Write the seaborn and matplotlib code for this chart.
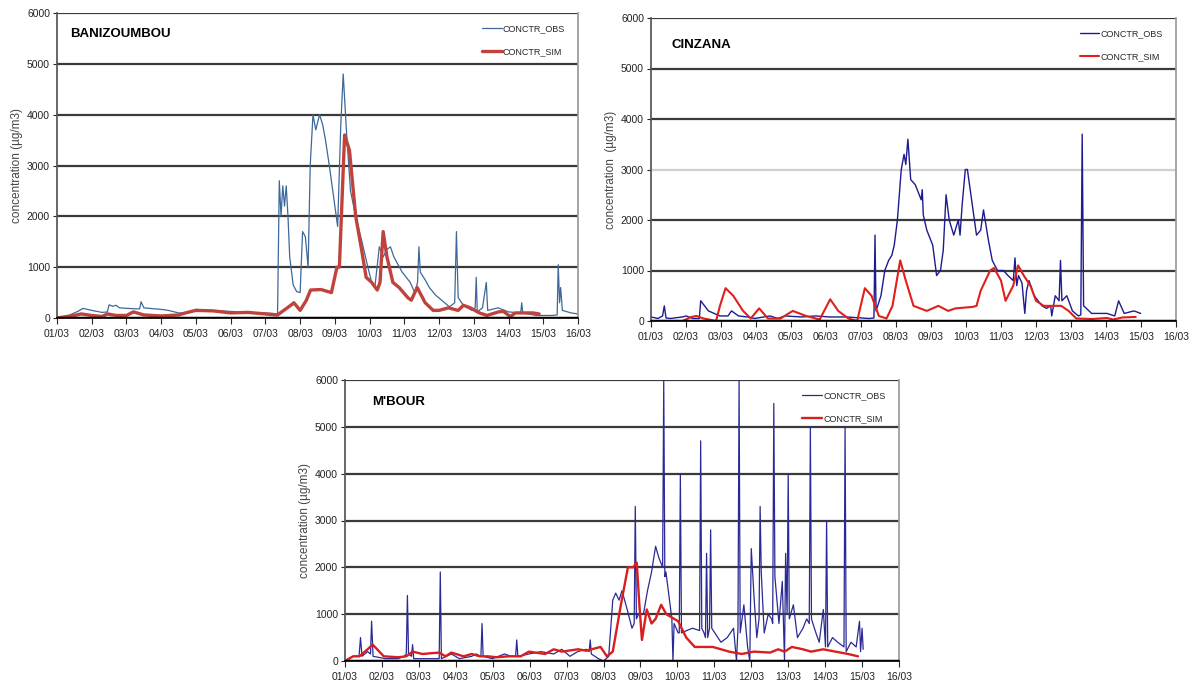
import numpy as np
import pandas as pd
import matplotlib
matplotlib.use("Agg")
import matplotlib.pyplot as plt
import seaborn as sns

# days since 01/03
day_labels = [f"{d:02d}/03" for d in range(1, 17)]
y_ticks = [0, 1000, 2000, 3000, 4000, 5000, 6000]

# BANIZOUMBOU
ban_obs_t = [0, 0.3, 0.6, 0.75, 1.0, 1.3, 1.45, 1.5, 1.6, 1.7, 1.8, 2.0, 2.3, 2.38, 2.42, 2.5, 2.8, 3.0,
             3.2, 3.5, 3.8, 4.0, 4.3, 4.6, 5.0, 5.3, 5.6, 5.9, 6.2, 6.35, 6.4, 6.45, 6.5, 6.55, 6.6, 6.65,
             6.7, 6.8, 6.9, 7.0, 7.07, 7.15, 7.23, 7.29, 7.37, 7.45, 7.56, 7.65, 7.73, 7.84, 8.0, 8.08,
             8.17, 8.24, 8.34, 8.45, 8.6, 8.78, 8.95, 9.06, 9.15, 9.28, 9.39, 9.5, 9.6, 9.7, 9.94,
             10.17, 10.3, 10.38, 10.42, 10.46, 10.6, 10.72, 10.9, 11.16, 11.3, 11.45, 11.5, 11.55, 11.7,
             11.94, 12.04, 12.07, 12.1, 12.25, 12.36, 12.4, 12.7, 13.0, 13.35, 13.38, 13.41, 13.8,
             14.26, 14.4, 14.43, 14.47, 14.5, 14.55, 14.8, 15.0]
ban_obs_c = [10, 40, 130, 190, 150, 110, 120, 260, 230, 250, 200, 190, 180, 180, 320, 200, 180, 170,
             150, 100, 100, 170, 150, 140, 130, 120, 110, 100, 90, 80, 2700, 2000, 2600, 2200, 2600, 2000,
             1200, 650, 520, 500, 1700, 1600, 1000, 3000, 4000, 3700, 4000, 3800, 3500, 3000, 2200, 1800,
             3800, 4800, 3600, 2500, 2000, 1500, 1000, 700, 600, 1400, 1200, 1350, 1400, 1200, 900,
             700, 500, 700, 1400, 900, 750, 600, 450, 300, 220, 300, 1700, 400, 250,
             150, 200, 800, 120, 200, 700, 150, 200, 120, 100, 300, 100, 50,
             50, 60, 1050, 300, 600, 150, 100, 80]
ban_sim_t = [0, 0.5, 0.7, 1.0, 1.3, 1.45, 1.7, 2.0, 2.2, 2.5, 3.0, 3.5, 3.7, 4.0, 4.5, 5.0, 5.5, 6.0,
             6.35, 6.73, 6.82, 7.0, 7.18, 7.3, 7.6, 7.9, 8.06, 8.13, 8.28, 8.42, 8.6, 8.78, 8.9, 9.06,
             9.22, 9.3, 9.39, 9.5, 9.67, 9.85, 10.1, 10.2, 10.37, 10.6, 10.83, 11.0, 11.27, 11.55,
             11.7, 11.9, 12.16, 12.38, 12.71, 12.85, 13.05, 13.2, 13.7, 13.88]
ban_sim_c = [0, 50, 80, 50, 30, 80, 50, 50, 120, 60, 40, 60, 100, 150, 140, 100, 110, 80,
             60, 250, 300, 150, 350, 550, 560, 500, 1000, 1000, 3600, 3300, 2000, 1300, 800, 700,
             550, 700, 1700, 1200, 700, 600, 400, 350, 600, 300, 150, 150, 200, 150,
             250, 200, 100, 50, 120, 130, 30, 100, 100, 80]

# CINZANA
cin_obs_t = [0, 0.2, 0.33, 0.38, 0.43, 0.55, 0.9, 1.0, 1.2, 1.38, 1.42, 1.64, 1.97, 2.2, 2.3, 2.5,
             2.75, 2.96, 3.4, 3.62, 3.83, 4.3, 4.7, 5.1, 5.58, 6.0, 6.24, 6.37, 6.4, 6.43, 6.57, 6.68,
             6.79, 6.88, 6.95, 7.04, 7.15, 7.23, 7.28, 7.34, 7.42, 7.55, 7.72, 7.75, 7.78, 7.88, 8.05,
             8.16, 8.27, 8.35, 8.43, 8.52, 8.65, 8.78, 8.83, 8.89, 8.98, 9.04, 9.14, 9.3, 9.42, 9.5,
             9.64, 9.75, 9.9, 10.07, 10.2, 10.35, 10.4, 10.45, 10.5, 10.6, 10.68, 10.73, 10.8, 10.95,
             11.17, 11.3, 11.42, 11.45, 11.55, 11.66, 11.7, 11.74, 11.88, 12.04, 12.21, 12.28, 12.32,
             12.36, 12.59, 13.03, 13.25, 13.36, 13.52, 13.8, 13.99]
cin_obs_c = [80, 50, 100, 300, 60, 50, 80, 100, 50, 50, 400, 200, 100, 100, 200, 100,
             80, 50, 100, 50, 100, 80, 100, 80, 80, 60, 50, 60, 1700, 200, 500, 1000,
             1200, 1300, 1500, 2000, 3000, 3300, 3100, 3600, 2800, 2700, 2400, 2600, 2100, 1800, 1500,
             900, 1000, 1400, 2500, 2000, 1700, 2000, 1700, 2300, 3000, 3000, 2500, 1700, 1800, 2200,
             1600, 1200, 1000, 1000, 900, 800, 1250, 700, 900, 750, 150, 600, 800, 500,
             300, 250, 300, 100, 500, 400, 1200, 400, 500, 200, 100, 120, 3700,
             300, 150, 150, 100, 400, 150, 200, 150]
cin_sim_t = [0, 0.9, 1.15, 1.3, 1.5, 1.86, 1.97, 2.13, 2.35, 2.63, 2.85, 3.09, 3.34, 3.7, 4.05, 4.43,
             4.82, 5.12, 5.35, 5.64, 5.89, 6.11, 6.3, 6.51, 6.73, 6.9, 7.12, 7.28, 7.5, 7.88, 8.21,
             8.49, 8.7, 9.2, 9.3, 9.42, 9.69, 9.8, 10.0, 10.13, 10.35, 10.49, 10.65, 10.84, 11.0,
             11.22, 11.72, 11.93, 12.15, 12.6, 13.03, 13.2, 13.47, 13.85]
cin_sim_c = [0, 0, 80, 100, 50, 0, 300, 650, 500, 200, 50, 250, 50, 50, 200, 100,
             30, 430, 200, 50, 0, 650, 500, 100, 50, 300, 1200, 800, 300, 200, 300,
             200, 250, 280, 300, 600, 1000, 1050, 800, 400, 700, 1100, 900, 700, 400,
             300, 300, 200, 50, 40, 60, 30, 70, 80]

# M'BOUR
mb_obs_t = [0, 0.22, 0.38, 0.42, 0.46, 0.61, 0.69, 0.72, 0.76, 1.1, 1.44, 1.6, 1.66, 1.69, 1.72, 1.8,
            1.83, 1.86, 2.2, 2.55, 2.58, 2.61, 2.88, 3.1, 3.43, 3.55, 3.68, 3.71, 3.74, 3.99, 4.32,
            4.5, 4.62, 4.65, 4.68, 4.98, 5.31, 5.65, 5.87, 6.09, 6.3, 6.53, 6.61, 6.64, 6.67, 6.86,
            7.0, 7.14, 7.25, 7.33, 7.42, 7.5, 7.64, 7.77, 7.83, 7.86, 7.89, 7.95, 8.08, 8.19, 8.3,
            8.41, 8.5, 8.6, 8.63, 8.66, 8.69, 8.8, 8.85, 8.88, 8.91, 9.02, 9.05, 9.08, 9.11, 9.25,
            9.41, 9.6, 9.63, 9.66, 9.72, 9.76, 9.79, 9.82, 9.87, 9.9, 9.93, 10.18, 10.35, 10.52,
            10.6, 10.64, 10.67, 10.7, 10.8, 10.9, 10.96, 11.0, 11.08, 11.15, 11.21, 11.24, 11.27,
            11.35, 11.46, 11.55, 11.58, 11.61, 11.64, 11.75, 11.84, 11.9, 11.93, 11.97, 12.0, 12.03,
            12.14, 12.25, 12.4, 12.5, 12.57, 12.6, 12.63, 12.75, 12.84, 12.95, 13.01, 13.04, 13.07,
            13.2, 13.34, 13.51, 13.54, 13.57, 13.7, 13.84, 13.93, 13.96, 14.0, 14.03]
mb_obs_c = [0, 100, 100, 500, 100, 200, 150, 850, 100, 50, 50, 100, 150, 1400, 150, 100,
            350, 50, 50, 50, 1900, 50, 150, 50, 100, 150, 100, 800, 100, 50, 150,
            100, 100, 450, 100, 150, 200, 150, 250, 100, 200, 250, 200, 450, 150, 50,
            0, 100, 1300, 1450, 1300, 1500, 1100, 700, 800, 3300, 900, 1000, 1000, 1500, 1900,
            2450, 2200, 2000, 6000, 1800, 1900, 1200, 900, 0, 800, 600, 600, 4000, 600, 650,
            700, 650, 4700, 700, 600, 500, 2300, 500, 700, 2800, 700, 400, 500, 700,
            0, 700, 6000, 600, 1200, 300, 0, 2400, 1300, 500, 900, 3300, 1900,
            600, 1000, 900, 800, 5500, 1800, 800, 1700, 0, 2300, 1000, 4000, 900,
            1200, 500, 700, 900, 800, 5000, 900, 600, 400, 1100, 300, 3000, 300,
            500, 400, 300, 5000, 200, 400, 300, 850, 200, 700, 250]
mb_sim_t = [0, 0.22, 0.39, 0.61, 0.75, 1.05, 1.44, 1.66, 1.83, 2.1, 2.55, 2.72, 2.88, 3.21, 3.43, 3.65,
            3.87, 4.1, 4.43, 4.76, 4.98, 5.42, 5.65, 5.87, 6.31, 6.53, 6.92, 7.09, 7.25, 7.47, 7.66,
            7.8, 7.9, 7.97, 8.04, 8.17, 8.3, 8.41, 8.56, 8.7, 8.91, 9.02, 9.24, 9.47, 9.96, 10.4,
            10.74, 11.07, 11.51, 11.73, 11.9, 12.1, 12.4, 12.62, 12.95, 13.28, 13.62, 13.89]
mb_sim_c = [0, 100, 100, 250, 350, 100, 80, 100, 200, 150, 180, 100, 180, 100, 150, 100,
            100, 80, 100, 100, 200, 150, 250, 200, 250, 220, 300, 100, 200, 1200, 2000,
            2000, 2100, 1200, 450, 1100, 800, 900, 1200, 1000, 900, 850, 500, 300, 300, 200,
            150, 200, 180, 250, 200, 300, 250, 200, 250, 200, 150, 100]

panels = [
    dict(name="BANIZOUMBOU", rect=[57 / 1195, 1 - 318 / 690, 521 / 1195, 305 / 690],
         obs=(ban_obs_t, ban_obs_c), sim=(ban_sim_t, ban_sim_c),
         obs_col="#3d6899", sim_col="#c0423c", obs_lw=0.9, sim_lw=2.4, light3000=False,
         title_xy=(0.025, 0.93), lab="concentration (µg/m3)"),
    dict(name="CINZANA", rect=[651 / 1195, 1 - 321 / 690, 525 / 1195, 303 / 690],
         obs=(cin_obs_t, cin_obs_c), sim=(cin_sim_t, cin_sim_c),
         obs_col="#1c1c8e", sim_col="#e0201c", obs_lw=1.0, sim_lw=1.5, light3000=True,
         title_xy=(0.04, 0.91), lab="concentration  (µg/m3)"),
    dict(name="M'BOUR", rect=[345 / 1195, 1 - 661 / 690, 554 / 1195, 281 / 690],
         obs=(mb_obs_t, mb_obs_c), sim=(mb_sim_t, mb_sim_c),
         obs_col="#2a2a96", sim_col="#d81e1e", obs_lw=0.9, sim_lw=1.7, light3000=False,
         title_xy=(0.049, 0.92), lab="concentration (µg/m3)"),
]

sns.set_theme(style="white")
plt.rcParams['font.family'] = ['Liberation Sans Narrow', 'Liberation Sans', 'DejaVu Sans']

fig = plt.figure(figsize=(11.95, 6.90), dpi=100)

for p in panels:
    ax = fig.add_axes(p["rect"])
    df_obs = pd.DataFrame({"t": p["obs"][0], "c": p["obs"][1]})
    df_sim = pd.DataFrame({"t": p["sim"][0], "c": p["sim"][1]})
    for y in y_ticks[1:]:
        col = "#d0d0d0" if (p["light3000"] and y == 3000) else "#3a3a3a"
        ax.axhline(y, color=col, lw=1.6, zorder=0)
    sns.lineplot(data=df_obs, x="t", y="c", ax=ax, color=p["obs_col"], lw=p["obs_lw"],
                 label="CONCTR_OBS", sort=False, estimator=None)
    sns.lineplot(data=df_sim, x="t", y="c", ax=ax, color=p["sim_col"], lw=p["sim_lw"],
                 label="CONCTR_SIM", sort=False, estimator=None)
    ax.axhline(0, color="black", lw=2.5, zorder=5)
    ax.set_xlim(0, 15)
    ax.set_ylim(0, 6000)
    ax.set_xticks(range(16))
    ax.set_xticklabels(day_labels, fontsize=7.5, color="#222222")
    ax.set_yticks(y_ticks)
    ax.set_yticklabels([str(v) for v in y_ticks], fontsize=7.5, color="#222222")
    ax.tick_params(axis="x", direction="out", length=4, width=0.8, bottom=True, pad=4)
    ax.tick_params(axis="y", direction="out", length=3, width=0.8, left=True, pad=2)
    ax.set_xlabel("")
    ax.set_ylabel(p["lab"], fontsize=8.5, color="#444444", labelpad=3)
    ax.spines["top"].set_visible(False)
    ax.spines["left"].set_color("#555555")
    ax.spines["right"].set_color("#9a9a9a")
    ax.spines["bottom"].set_color("black")
    ax.text(p["title_xy"][0], p["title_xy"][1], p["name"], transform=ax.transAxes,
            fontsize=9.5, fontweight="bold", color="black", va="center", ha="left")
    ax.legend(loc="upper right", bbox_to_anchor=(0.99, 0.99), frameon=False, fontsize=6.5,
              handlelength=2.2, handletextpad=0.1, labelspacing=1.6)

fig.savefig("out.png", dpi=100)
